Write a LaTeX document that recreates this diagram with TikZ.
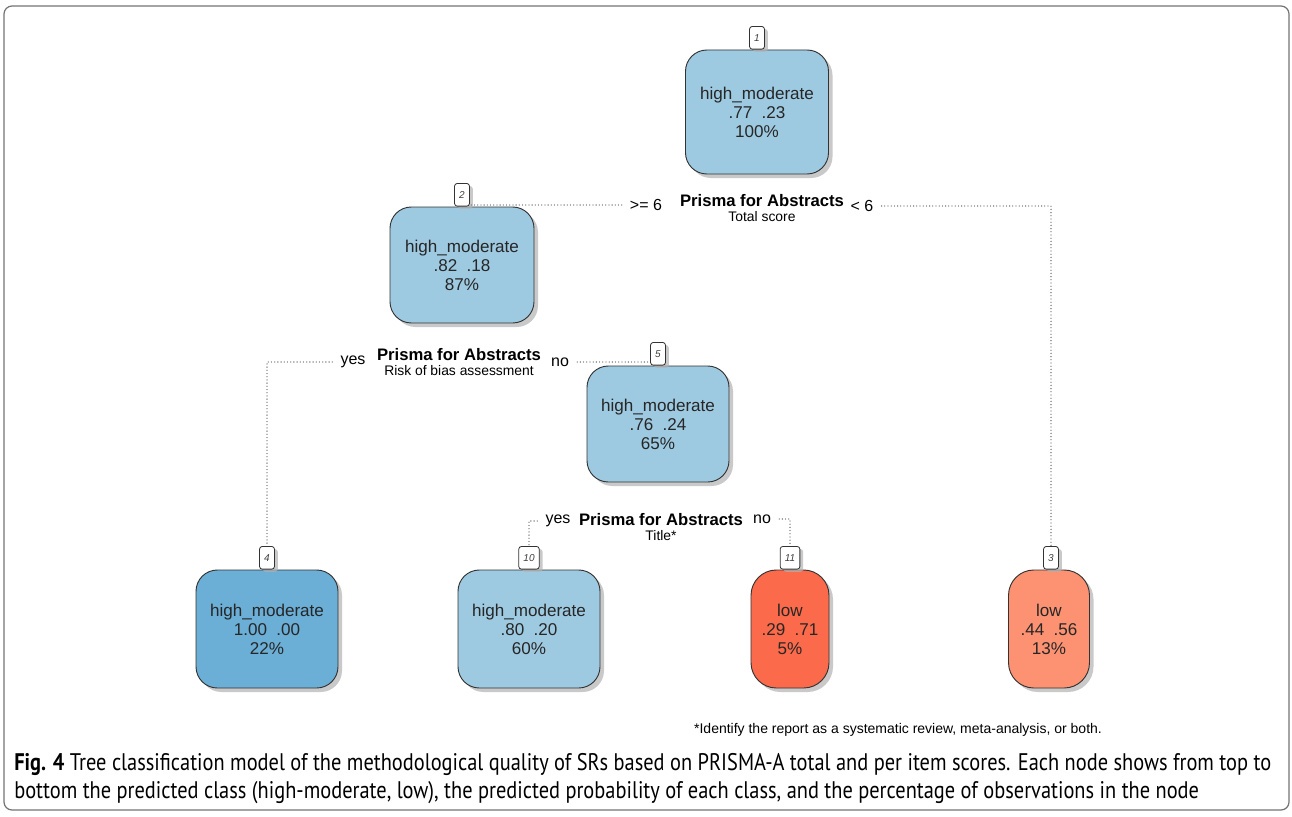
\documentclass[tikz,border=0pt]{standalone}
\usepackage{fontspec}
\setmainfont{Liberation Sans}
\newfontfamily\capfont{PT Sans}[FakeStretch=0.85]
\usetikzlibrary{shadows}

\definecolor{hmlight}{HTML}{9ECAE1}
\definecolor{hmdark}{HTML}{6BAED6}
\definecolor{lowdark}{HTML}{FB6A4A}
\definecolor{lowlight}{HTML}{FC9272}

\newcommand{\px}{0.75pt}

\tikzset{
  leaf/.style={draw=black!80, line width=0.7pt, rounded corners=16pt, align=center,
    inner sep=0pt, text=black!85, font=\fontsize{12.8}{14.3}\selectfont,
    drop shadow={shadow xshift=3pt, shadow yshift=-3pt, fill=black!30, opacity=0.7}},
  tag/.style={draw=black!80, fill=white, line width=0.6pt, rounded corners=2pt, anchor=south,
    inner xsep=3.5pt, inner ysep=0pt, minimum height=17pt, text=black!75,
    font=\fontsize{7.5}{7.5}\itshape,
    drop shadow={shadow xshift=2.5pt, shadow yshift=-2pt, fill=black!30, opacity=0.7}},
  branch/.style={black!65, line width=1pt, line cap=round, dash pattern=on 0pt off 2.4pt},
  splittext/.style={align=center, inner sep=1pt},
  side/.style={inner xsep=6pt, inner ysep=1pt, font=\fontsize{12}{12}\selectfont}
}

\begin{document}
\begin{tikzpicture}[x=\px, y={(0pt,-0.75pt)}]
    \useasboundingbox (0,0) rectangle (1292,817);
    % Frame
    \draw[black!55, line width=0.9pt, rounded corners=6pt] (4,6) rectangle (1289,810);

    % Nodes of the tree
    \node[leaf, fill=hmlight, minimum width=143*\px, minimum height=124*\px] (n1) at (757,112) {high\_moderate\\.77\ \ .23\\100\%};
    \node[leaf, fill=hmlight, minimum width=144*\px, minimum height=116*\px] (n2) at (462,265) {high\_moderate\\.82\ \ .18\\87\%};
    \node[leaf, fill=hmlight, minimum width=142*\px, minimum height=116*\px] (n5) at (658,424) {high\_moderate\\.76\ \ .24\\65\%};
    \node[leaf, fill=hmdark, minimum width=142*\px, minimum height=118*\px] (n4) at (267,629) {high\_moderate\\1.00\ \ .00\\22\%};
    \node[leaf, fill=hmlight, minimum width=142*\px, minimum height=118*\px] (n10) at (529,629) {high\_moderate\\.80\ \ .20\\60\%};
    \node[leaf, fill=lowdark, minimum width=78*\px, minimum height=118*\px, rounded corners=19pt] (n11) at (790,629) {low\\.29\ \ .71\\5\%};
    \node[leaf, fill=lowlight, minimum width=81*\px, minimum height=118*\px, rounded corners=19pt] (n3) at (1049,629) {low\\.44\ \ .56\\13\%};

    % Node numbers
    \node[tag] (t1) at (n1.north) {1};
    \node[tag] (t2) at (n2.north) {2};
    \node[tag] (t5) at (n5.north) {5};
    \node[tag] (t4) at (n4.north) {4};
    \node[tag] (t10) at (n10.north) {10};
    \node[tag] (t11) at (n11.north) {11};
    \node[tag] (t3) at (n3.north -| 1051,0) {3};

    % Splits
    \node[splittext] (s1) at (762,208) {\fontsize{12.5}{13}\selectfont\bfseries Prisma for Abstracts\\[-1pt]\fontsize{10.4}{11}\selectfont Total score};
    \node[splittext] (s2) at (459,362) {\fontsize{12.5}{13}\selectfont\bfseries Prisma for Abstracts\\[-1pt]\fontsize{10.4}{11}\selectfont Risk of bias assessment};
    \node[splittext] (s5) at (661,527) {\fontsize{12.5}{13}\selectfont\bfseries Prisma for Abstracts\\[-1pt]\fontsize{10.4}{11}\selectfont Title*};

    % Branch labels
    \node[side] (ge6) at (646,205) {>= 6};
    \node[side] (lt6) at (862,206) {< 6};
    \node[side] (yes2) at (353,362) {yes};
    \node[side] (no2) at (560,362) {no};
    \node[side] (yes5) at (558,521) {yes};
    \node[side] (no5) at (762,519) {no};

    % Connectors
    \draw[branch] (ge6.west) -- (ge6.west -| t2.east);
    \draw[branch] (lt6.east) -| (t3.north);
    \draw[branch] (yes2.west) -| (t4.north);
    \draw[branch] (no2.east) -- (no2.east -| t5.west);
    \draw[branch] (yes5.west) -| (t10.north);
    \draw[branch] (no5.east) -| (t11.north);

    % Footnote and caption
    \node[font=\fontsize{10.5}{12}\selectfont] (foot) at (898,730) {*Identify the report as a systematic review, meta-analysis, or both.};
    \node[anchor=north west, align=left, inner sep=0pt, font=\capfont\fontsize{18}{21}\selectfont] (cap) at (14,753)
      {\textbf{Fig. 4} Tree classification model of the methodological quality of SRs based on PRISMA-A total and per item scores. Each node shows from top to\\
       bottom the predicted class (high-moderate, low), the predicted probability of each class, and the percentage of observations in the node};
\end{tikzpicture}
\end{document}
